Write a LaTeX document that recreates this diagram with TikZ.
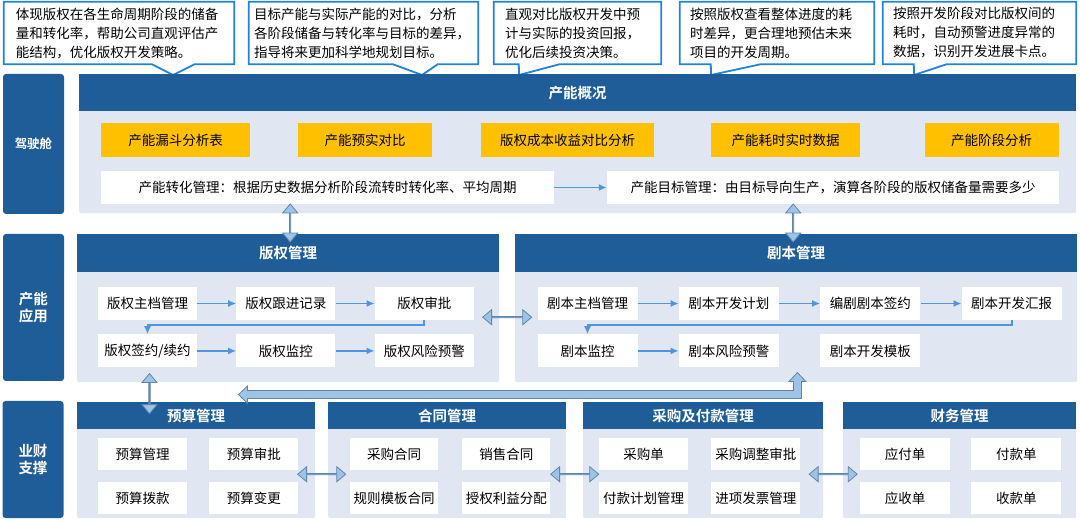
\documentclass[tikz,border=0pt]{standalone}
\usepackage{fontspec}
\setmainfont{Noto Sans CJK SC}[BoldFont={Noto Sans CJK SC Bold}]
\usetikzlibrary{arrows.meta, positioning, calc, shapes.arrows, backgrounds}

\definecolor{navy}{RGB}{31,93,153}
\definecolor{paneblue}{RGB}{224,230,242}
\definecolor{gold}{RGB}{255,192,0}
\definecolor{noteblue}{RGB}{33,131,221}
\definecolor{flow}{RGB}{78,148,222}
\definecolor{fatfill}{RGB}{157,195,230}
\definecolor{fatedge}{RGB}{96,134,172}

\tikzset{
  every node/.style={font=\fontsize{13.5}{19}\selectfont, inner sep=0pt},
  lane/.style={
    fill=navy, rounded corners=3pt, text=white, align=center,
    minimum width=61pt, font=\fontsize{14.5}{17}\selectfont\bfseries
  },
  pane/.style={fill=paneblue, rounded corners=2pt},
  bar/.style={fill=navy, text=white, font=\fontsize{14.5}{17}\selectfont\bfseries},
  tag/.style={fill=gold, minimum height=34pt},
  item/.style={fill=white, minimum height=33pt},
  cell/.style={fill=white, minimum height=32pt},
  note/.style={align=left, minimum height=62pt},
  noteline/.style={draw=noteblue, line width=1.8pt, fill=white, line join=miter},
  arr/.style={-{Latex[length=8pt,width=7pt]}, draw=flow, line width=1.9pt},
  fatarr/.style={
    double arrow, draw=fatedge, fill=fatfill, line width=0.8pt,
    minimum width=15pt, double arrow head extend=4.5pt,
    double arrow tip angle=80
  },
  fatline/.style={draw=fatedge, fill=fatfill, line width=0.8pt},
}

\begin{document}
\begin{tikzpicture}[x=1pt, y=-1pt]
  \useasboundingbox (0,0) rectangle (1080,521);

  % Left lanes
  \node[lane, minimum height=140pt, font=\fontsize{12.5}{15}\selectfont\bfseries] (cockpit) at (33.5,144) {驾驶舱};
  \node[lane, minimum height=147pt] (app) at (33.5,307.5) {产能\\应用};
  \node[lane, minimum height=117pt] (fin) at (33,459.5) {业财\\支撑};

  % Overview panel
  \node[pane, minimum width=997pt, minimum height=139pt, anchor=north west] (ovp) at (79,74) {};
  \node[bar, minimum width=997pt, minimum height=37pt, anchor=north west] (ovh) at (79,74) {产能概况};

  \node[tag, minimum width=149pt] (t1) at (175.5,140) {产能漏斗分析表};
  \node[tag, minimum width=134pt] (t2) at (365,140) {产能预实对比};
  \node[tag, minimum width=173pt] (t3) at (567.5,140) {版权成本收益对比分析};
  \node[tag, minimum width=149pt] (t4) at (785.5,140) {产能耗时实时数据};
  \node[tag, minimum width=134pt] (t5) at (991.5,140) {产能阶段分析};

  \node[item, minimum width=453pt] (m1) at (327.5,187.5) {产能转化管理：根据历史数据分析阶段流转时转化率、平均周期};
  \node[item, minimum width=452pt] (m2) at (833,187.5) {产能目标管理：由目标导向生产，演算各阶段的版权储备量需要多少};
  \draw[arr] (m1) -- (m2);

  % Callouts
  \node[note, minimum width=230pt, text width=206pt] (n1) at (119,33)
    {体现版权在各生命周期阶段的储备\\量和转化率，帮助公司直观评估产\\能结构，优化版权开发策略。};
  \node[note, minimum width=229pt, text width=219pt] (n2) at (363.5,33)
    {目标产能与实际产能的对比，分析\\各阶段储备与转化率与目标的差异，\\指导将来更加科学地规划目标。};
  \node[note, minimum width=167pt, text width=145pt] (n3) at (577.5,33)
    {直观对比版权开发中预\\计与实际的投资回报，\\优化后续投资决策。};
  \node[note, minimum width=194pt, text width=174pt] (n4) at (777,33)
    {按照版权查看整体进度的耗\\时差异，更合理地预估未来\\项目的开发周期。};
  \node[note, minimum width=193pt, text width=173pt] (n5) at (979.5,33)
    {按照开发阶段对比版权间的\\耗时，自动预警进度异常的\\数据，识别开发进展卡点。};

  \coordinate (p1) at (173,75);
  \coordinate (p2) at (422,75);
  \coordinate (p3) at (519,75);
  \coordinate (p4) at (711,75);
  \coordinate (p5) at (914,75);

  \begin{scope}[on background layer]
    \draw[noteline] (n1.south west) -- (n1.north west) -- (n1.north east) -- (n1.south east)
      -- ($(n1.south west)+(191,0)$) -- (p1) -- ($(n1.south west)+(148,0)$) -- cycle;
    \draw[noteline] (n2.south west) -- (n2.north west) -- (n2.north east) -- (n2.south east)
      -- ($(n2.south west)+(189,0)$) -- (p2) -- ($(n2.south west)+(144,0)$) -- cycle;
    \draw[noteline] (n3.south west) -- (n3.north west) -- (n3.north east) -- (n3.south east)
      -- ($(n3.south west)+(66,0)$) -- (p3) -- ($(n3.south west)+(25,0)$) -- cycle;
    \draw[noteline] (n4.south west) -- (n4.north west) -- (n4.north east) -- (n4.south east)
      -- ($(n4.south west)+(81,0)$) -- (p4) -- ($(n4.south west)+(31,0)$) -- cycle;
    \draw[noteline] (n5.south west) -- (n5.north west) -- (n5.north east) -- (n5.south east)
      -- ($(n5.south west)+(64,0)$) -- (p5) -- ($(n5.south west)+(31,0)$) -- cycle;
  \end{scope}

  % Copyright management
  \node[pane, minimum width=422pt, minimum height=148pt, anchor=north west] (crp) at (77,234) {};
  \node[bar, minimum width=422pt, minimum height=38pt, anchor=north west] (crh) at (77,234) {版权管理};

  \node[item, minimum width=99pt] (c1) at (147.5,303.5) {版权主档管理};
  \node[item, minimum width=99pt, right=39pt of c1] (c2) {版权跟进记录};
  \node[item, minimum width=99pt, right=39pt of c2] (c3) {版权审批};
  \node[item, minimum width=99pt, below=14pt of c1] (c4) {版权签约/续约};
  \node[item, minimum width=99pt, right=39pt of c4] (c5) {版权监控};
  \node[item, minimum width=99pt, right=39pt of c5] (c6) {版权风险预警};

  \draw[arr] (c1) -- (c2);
  \draw[arr] (c2) -- (c3);
  \draw[arr] (c3.south) -- ++(0,5) -| (c4.north);
  \draw[arr] (c4) -- (c5);
  \draw[arr] (c5) -- (c6);

  % Script management
  \node[pane, minimum width=562pt, minimum height=148pt, anchor=north west] (scp) at (515,234) {};
  \node[bar, minimum width=562pt, minimum height=38pt, anchor=north west] (sch) at (515,234) {剧本管理};

  \node[item, minimum width=100pt] (s1) at (587.5,303.5) {剧本主档管理};
  \node[item, minimum width=100pt, right=41pt of s1] (s2) {剧本开发计划};
  \node[item, minimum width=100pt, right=41pt of s2] (s3) {编剧剧本签约};
  \node[item, minimum width=100pt, right=41pt of s3] (s4) {剧本开发汇报};
  \node[item, minimum width=100pt, below=14pt of s1] (s5) {剧本监控};
  \node[item, minimum width=100pt, right=41pt of s5] (s6) {剧本风险预警};
  \node[item, minimum width=100pt, right=41pt of s6] (s7) {剧本开发模板};

  \draw[arr] (s1) -- (s2);
  \draw[arr] (s2) -- (s3);
  \draw[arr] (s3) -- (s4);
  \draw[arr] (s4.south) -- ++(0,5) -| (s5.north);
  \draw[arr] (s5) -- (s6);

  % Finance support panels
  \node[pane, minimum width=238pt, minimum height=116pt, anchor=north west] (bp) at (77,402) {};
  \node[bar, minimum width=238pt, minimum height=27pt, anchor=north west] (bh) at (77,402) {预算管理};
  \node[pane, minimum width=238pt, minimum height=116pt, anchor=north west] (hp) at (328,402) {};
  \node[bar, minimum width=238pt, minimum height=27pt, anchor=north west] (hh) at (328,402) {合同管理};
  \node[pane, minimum width=240pt, minimum height=116pt, anchor=north west] (pp) at (583,402) {};
  \node[bar, minimum width=240pt, minimum height=27pt, anchor=north west] (ph) at (583,402) {采购及付款管理};
  \node[pane, minimum width=233pt, minimum height=116pt, anchor=north west] (fp) at (843,402) {};
  \node[bar, minimum width=233pt, minimum height=27pt, anchor=north west] (fh) at (843,402) {财务管理};

  \node[cell, minimum width=89pt] (b1) at (142.5,454) {预算管理};
  \node[cell, minimum width=89pt, right=22pt of b1] (b2) {预算审批};
  \node[cell, minimum width=89pt, below=12pt of b1] (b3) {预算拨款};
  \node[cell, minimum width=89pt, right=22pt of b3] (b4) {预算变更};

  \node[cell, minimum width=88pt] (h1) at (394,454) {采购合同};
  \node[cell, minimum width=88pt, right=24pt of h1] (h2) {销售合同};
  \node[cell, minimum width=88pt, below=12pt of h1] (h3) {规则模板合同};
  \node[cell, minimum width=88pt, right=24pt of h3] (h4) {授权利益分配};

  \node[cell, minimum width=89pt] (q1) at (643.5,454) {采购单};
  \node[cell, minimum width=89pt, right=23pt of q1] (q2) {采购调整审批};
  \node[cell, minimum width=89pt, below=12pt of q1] (q3) {付款计划管理};
  \node[cell, minimum width=89pt, right=23pt of q3] (q4) {进项发票管理};

  \node[cell, minimum width=90pt] (f1) at (905,454) {应付单};
  \node[cell, minimum width=90pt, right=21pt of f1] (f2) {付款单};
  \node[cell, minimum width=90pt, below=12pt of f1] (f3) {应收单};
  \node[cell, minimum width=90pt, right=21pt of f3] (f4) {收款单};

  % Hollow links between blocks
  \node[fatarr, minimum height=38pt, rotate=90] (v1) at ($(crh.north)+(2,-11)$) {};
  \node[fatarr, minimum height=38pt, rotate=90] (v2) at ($(sch.north)+(-3,-11)$) {};
  \node[fatarr, minimum height=40pt, rotate=90] (v3) at ($(c4.south)+(2,26)$) {};
  \node[fatarr, minimum height=49pt] (h12) at ($($(crp.east)!.5!(scp.west)$)+(0,9)$) {};
  \node[fatarr, minimum height=48pt] (l1) at ($($(bp.east)!.5!(hp.west)$)+(0,14)$) {};
  \node[fatarr, minimum height=48pt] (l2) at ($($(hp.east)!.5!(pp.west)$)+(0,14)$) {};
  \node[fatarr, minimum height=48pt] (l3) at ($($(pp.east)!.5!(fp.west)$)+(0,14)$) {};

  % L-shaped link from scripts back to budget
  \coordinate (ltip) at ($(s6.south)+(68.5,5)$);
  \draw[fatline] (ltip) -- ++(8.5,9) -- ++(-4.5,0) -- ++(0,17) -- ++(-554,0) -- ++(0,4.5)
    -- ++(-9,-8.5) -- ++(9,-8.5) -- ++(0,4.5) -- ++(546,0) -- ++(0,-9) -- ++(-4.5,0) -- cycle;
\end{tikzpicture}
\end{document}
